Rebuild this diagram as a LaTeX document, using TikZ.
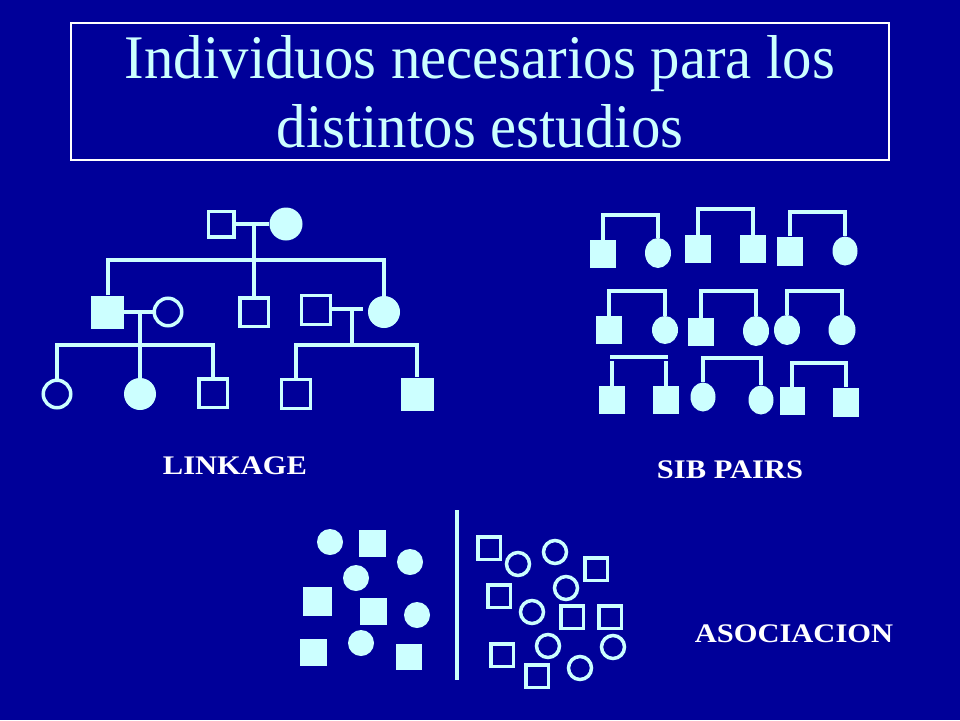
\documentclass[tikz,border=0pt]{standalone}
\usepackage{fontspec}
\setmainfont{Liberation Serif}
\usetikzlibrary{shapes.geometric}
\definecolor{bg}{RGB}{0,0,153}
\definecolor{lc}{RGB}{204,255,255}
\begin{document}
\begin{tikzpicture}[x=1pt,y=-1pt,
 fsq/.style={rectangle,fill=lc,inner sep=0pt,minimum size=#1}, fsq/.default=28,
 osq/.style={rectangle,draw=lc,line width=3.5pt,inner sep=0pt,minimum size=#1}, osq/.default=24,
 fci/.style={circle,fill=lc,inner sep=0pt,minimum size=#1}, fci/.default=32,
 oci/.style={circle,draw=lc,line width=3.5pt,inner sep=0pt,minimum size=#1}, oci/.default=23,
 psq/.style={rectangle,fill=lc,inner sep=0pt,minimum width=26pt,minimum height=28pt},
 pel/.style={ellipse,fill=lc,inner sep=0pt,minimum width=26pt,minimum height=30pt},
 link/.style={draw=lc,line width=4pt},
 lbl/.style={text=white,font=\fontsize{30.5}{32}\selectfont\bfseries,anchor=base,inner sep=0pt},
 ttl/.style={text=lc,font=\fontsize{62}{70}\selectfont,anchor=base,inner sep=0pt},
]
% background
\fill[bg] (0,0) rectangle (960,720);
\useasboundingbox (0,0) rectangle (960,720);

% title
\node[draw=white,line width=1.2pt,minimum width=818pt,minimum height=137pt,inner sep=0pt] (tbox) at (480,91.5) {};
\node[ttl] (t1) at (480,78) {\scalebox{0.948}[1]{Individuos necesarios para los}};
\node[ttl] (t2) at (480,147) {\scalebox{0.948}[1]{distintos estudios}};

% ===== LINKAGE pedigree =====
\node[osq=25.5] (A) at (221,224) {};
\node[fci=33] (B) at (286,224) {};
\node[fsq=33] (C) at (107.5,312) {};
\node[oci=27.5] (D) at (168,312) {};
\node[osq=28.5] (E) at (254,312) {};
\node[osq=29] (F) at (316,310) {};
\node[fci=32] (G) at (384,312) {};
\node[oci=27.5] (H) at (57,394) {};
\node[fci=32] (I) at (140,394) {};
\node[osq=28.5] (J) at (213,393) {};
\node[osq=29] (K) at (296,394) {};
\node[fsq=33] (L) at (417,394) {};

\coordinate (m1) at (254,224);
\coordinate (s1) at (254,260);
\coordinate (m2) at (140,312);
\coordinate (s2) at (140,345);
\coordinate (m3) at (352,309);
\coordinate (m3e) at (363,309);
\coordinate (s3) at (352,345);

\draw[link] (A.east) -- (B.west);
\draw[link] (m1) -- (s1);
\draw[link] (C.north) |- (s1) -| (G.north);
\draw[link] (s1) -- (E.north);
\draw[link] (C.east) -- (D.west);
\draw[link] (m2) -- (s2);
\draw[link] (H.north) |- (s2) -| (J.north);
\draw[link] (s2) -- (I.north);
\draw[link] (F.east |- m3) -- (m3e);
\draw[link] (m3) -- (s3);
\draw[link] (K.north) |- (s3) -| (L.north);

\node[lbl] (lk) at (235,474) {\scalebox{1}[0.88]{LINKAGE}};

% ===== SIB PAIRS =====
\node[psq] (p1a) at (603,254) {};
\node[pel] (p1b) at (658,253) {};
\node[psq] (p2a) at (698,249) {};
\node[psq] (p2b) at (753,249) {};
\node[psq,minimum height=29pt] (p3a) at (790,251) {};
\node[pel,minimum width=25pt,minimum height=29pt] (p3b) at (845,251) {};
\node[psq] (p4a) at (609,330) {};
\node[pel,minimum height=28pt] (p4b) at (665,330) {};
\node[psq] (p5a) at (701,332) {};
\node[pel] (p5b) at (756,331) {};
\node[pel] (p6a) at (787,330) {};
\node[pel,minimum width=27pt] (p6b) at (842,330) {};
\node[psq] (p7a) at (612,400) {};
\node[psq] (p7b) at (666,400) {};
\node[pel,minimum width=25pt,minimum height=29pt] (p8a) at (703,397) {};
\node[pel,minimum width=25pt,minimum height=29pt] (p8b) at (761,400) {};
\node[psq,minimum width=25pt] (p9a) at (792,401) {};
\node[psq,minimum height=29pt] (p9b) at (846,402) {};

\coordinate (b1) at (630,215);
\coordinate (b2) at (725,209);
\coordinate (b3) at (817,212);
\coordinate (b4) at (637,291);
\coordinate (b5) at (728,291);
\coordinate (b6) at (814,291);
\coordinate (b7l) at (610,357);
\coordinate (b7r) at (668,357);
\coordinate (b7) at (639,361);
\coordinate (b8) at (733,358);
\coordinate (b9) at (819,363);

\draw[link] (p1a.north) |- (b1) -| (p1b.north);
\draw[link] (p2a.north) |- (b2) -| (p2b.north);
\draw[link] (p3a.north) |- (b3) -| (p3b.north);
\draw[link] (p4a.north) |- (b4) -| (p4b.north);
\draw[link] (p5a.north) |- (b5) -| (p5b.north);
\draw[link] (p6a.north) |- (b6) -| (p6b.north);
\draw[link] (b7l) -- (b7r);
\draw[link] (p7a.north) -- (p7a.north |- b7);
\draw[link] (p7b.north) -- (p7b.north |- b7);
\draw[link] (p8a.north) |- (b8) -| (p8b.north);
\draw[link] (p9a.north) |- (b9) -| (p9b.north);

\node[lbl] (sp) at (730,478) {\scalebox{1}[0.88]{SIB PAIRS}};

% ===== ASOCIACION =====
\node[fci=26] (c1) at (330,542) {};
\node[fsq=27] (q1) at (372,543) {};
\node[fci=26] (c2) at (410,562) {};
\node[fci=26] (c3) at (356,578) {};
\node[fsq=29] (q2) at (317,601) {};
\node[fsq=27] (q3) at (373,611) {};
\node[fci=26] (c4) at (417,615) {};
\node[fsq=27] (q4) at (313,652) {};
\node[fci=26] (c5) at (361,643) {};
\node[fsq=26] (q5) at (409,657) {};

\coordinate (dv1) at (457,510);
\coordinate (dv2) at (457,680);
\draw[link] (dv1) -- (dv2);

\node[osq=22.5] (r1) at (489,548) {};
\node[oci] (o1) at (518,564) {};
\node[oci] (o2) at (555,552) {};
\node[osq=22.5] (r2) at (596,569) {};
\node[oci] (o3) at (566,588) {};
\node[osq=22.5] (r3) at (499,596) {};
\node[oci] (o4) at (532,612) {};
\node[osq=22.5] (r4) at (572,617) {};
\node[osq=22.5] (r5) at (610,617) {};
\node[osq=22.5] (r6) at (502,655) {};
\node[oci] (o5) at (548,646) {};
\node[oci] (o6) at (613,647) {};
\node[oci] (o7) at (580,668) {};
\node[osq=22.5] (r7) at (537,676) {};

\node[lbl] (as) at (794,642) {\scalebox{1}[0.88]{ASOCIACION}};
\end{tikzpicture}
\end{document}
